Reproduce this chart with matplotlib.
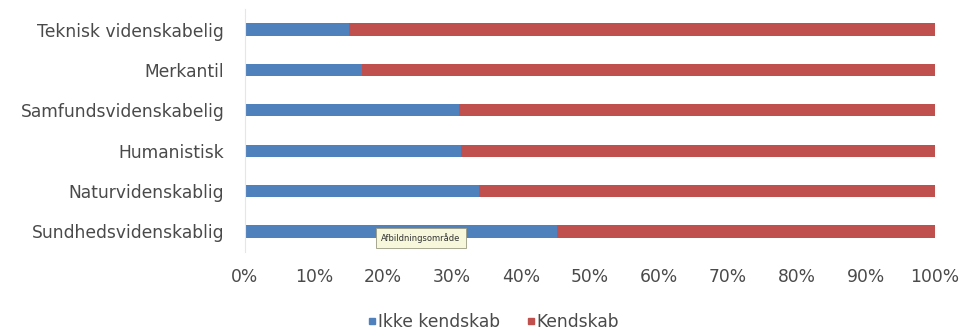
import matplotlib
matplotlib.use("Agg")
import matplotlib.pyplot as plt
from matplotlib.lines import Line2D

categories = ["Teknisk videnskabelig", "Merkantil", "Samfundsvidenskabelig",
              "Humanistisk", "Naturvidenskablig", "Sundhedsvidenskablig"]
ikke_kendskab = [15.0, 17.0, 31.0, 31.3, 33.9, 45.2]
kendskab = [100 - v for v in ikke_kendskab]
series_names = ["Ikke kendskab", "Kendskab"]
xticks = list(range(0, 101, 10))
xtick_labels = [f"{t}%" for t in xticks]

plt.rcParams['font.family'] = ['DejaVu Sans']
blue = "#4F81BD"
red = "#C0504D"
txt = "#4a4a4a"
fs = 12.3

fig = plt.figure(figsize=(9.65, 3.36), dpi=100)
ax = fig.add_axes([245/965, 1 - 251.7/336, 690/965, 242.4/336])

y = list(range(len(categories)))
ax.barh(y, ikke_kendskab, height=0.3, color=blue, label=series_names[0])
ax.barh(y, kendskab, left=ikke_kendskab, height=0.3, color=red, label=series_names[1])
ax.set_ylim(len(categories) - 0.5, -0.5)
ax.set_xlim(0, 100)
ax.set_yticks(y)
ax.set_yticklabels(categories, fontsize=fs, color=txt)
ax.set_xticks(xticks)
ax.set_xticklabels(xtick_labels, fontsize=fs, color=txt)
ax.tick_params(axis='both', length=0)
ax.tick_params(axis='y', pad=15)
ax.tick_params(axis='x', pad=12)
for s in ["top", "right", "bottom"]:
    ax.spines[s].set_visible(False)
ax.spines["left"].set_color("#e6e6e6")
ax.spines["left"].set_linewidth(0.8)

# tooltip artifact
fig.text(421/965, 1 - 238/336, "Afbildningsområde", fontsize=6, ha='center', va='center',
         color="#333333",
         bbox=dict(boxstyle="square,pad=0.6", fc="#f7f7dc", ec="#9a9a80", lw=0.6))

handles = [Line2D([], [], marker='s', linestyle='none', markersize=4, color=blue),
           Line2D([], [], marker='s', linestyle='none', markersize=4, color=red)]
fig.legend(handles, series_names, loc='center', bbox_to_anchor=(494/965, 1 - 322/336),
           ncol=2, frameon=False, fontsize=fs, handlelength=0.4, handletextpad=0.15,
           columnspacing=1.6, labelcolor=txt, borderpad=0)

fig.savefig("out.png", dpi=100)
